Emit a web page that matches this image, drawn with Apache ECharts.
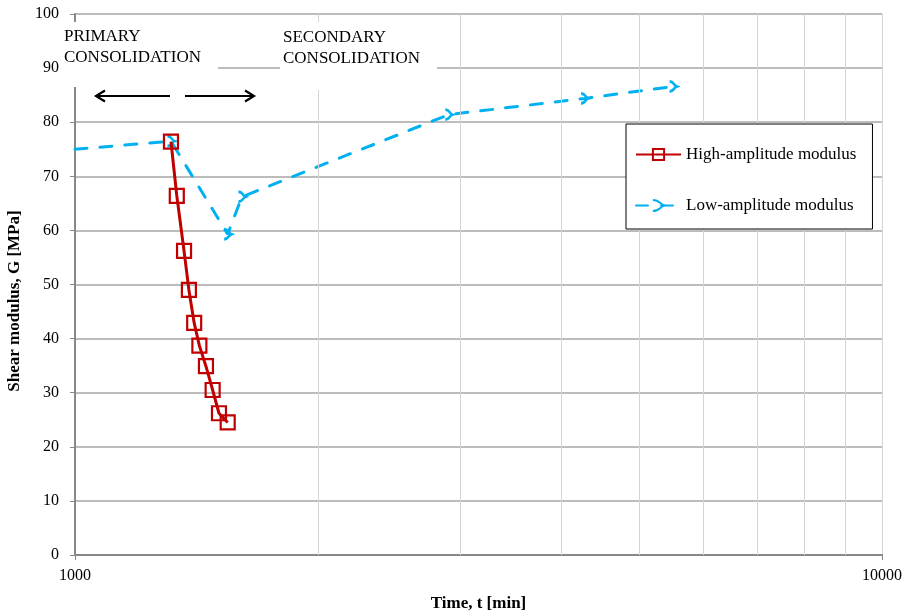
<!DOCTYPE html>
<html><head><meta charset="utf-8">
<script src="https://cdn.jsdelivr.net/npm/echarts@6/dist/echarts.min.js"></script>
<style>html,body{margin:0;padding:0;background:#fff}#c{width:913px;height:615px}</style>
</head><body><div id="c"></div>
<script>
const highT = [1315, 1337, 1365, 1384, 1405, 1426, 1453, 1481, 1508, 1546];
const highG = [76.4, 66.4, 56.2, 49.0, 42.9, 38.7, 34.9, 30.5, 26.2, 24.5];
const lowT = [1000, 1315, 1546, 1610, 2905, 4280, 5510];
const lowG = [75.0, 76.5, 59.3, 66.2, 81.4, 84.4, 86.6];
const xGridValues = [2000, 3000, 4000, 5000, 6000, 7000, 8000, 9000];
const seriesNames = ['High-amplitude modulus', 'Low-amplitude modulus'];
const yTitle = 'Shear modulus, G [MPa]';
const xTitle = 'Time, t [min]';

const FONT = '"Liberation Serif", "Times New Roman", serif';
const chart = echarts.init(document.getElementById('c'), null, {renderer: 'canvas'});
const zip = (a, b) => a.map((v, i) => [v, b[i]]);
const lowData = zip(lowT, lowG).map((p, i) => i === 0 ? {value: p, symbol: 'none'} : p);

const option = {
  animation: false,
  backgroundColor: '#fff',
  grid: {left: 75, right: 31, top: 14, bottom: 60, containLabel: false, outerBoundsMode: 'none'},
  xAxis: {
    type: 'log', logBase: 10, min: 1000, max: 10000,
    name: xTitle, nameLocation: 'middle', nameGap: 40,
    nameTextStyle: {fontFamily: FONT, fontSize: 17, fontWeight: 'bold', color: '#000'},
    axisLine: {show: true, onZero: false, lineStyle: {color: '#888', width: 2}},
    axisTick: {show: true, length: 5, lineStyle: {color: '#888'}},
    axisLabel: {fontFamily: FONT, fontSize: 16, color: '#000', margin: 13,
      formatter: v => String(Math.round(v))},
    splitLine: {show: true, lineStyle: {color: '#d4d4d4', width: 1}}
  },
  yAxis: {
    type: 'value', min: 0, max: 100, interval: 10,
    axisLine: {show: true, lineStyle: {color: '#888', width: 2}},
    axisTick: {show: true, length: 5, lineStyle: {color: '#888'}},
    axisLabel: {fontFamily: FONT, fontSize: 16, color: '#000', margin: 16},
    splitLine: {show: true, lineStyle: {color: '#a6a6a6', width: 1.5}}
  },
  legend: {
    orient: 'vertical', left: 626, top: 124, z: 20,
    backgroundColor: '#fff', borderColor: '#000', borderWidth: 1,
    padding: [22, 16, 15, 9], itemGap: 34, itemWidth: 45, itemHeight: 14,
    textStyle: {fontFamily: FONT, fontSize: 17, color: '#000'},
    data: seriesNames
  },
  series: [
    {
      type: 'line', name: 'grid', data: [], z: 1, silent: true,
      markLine: {
        silent: true, symbol: 'none', label: {show: false},
        lineStyle: {color: '#d4d4d4', width: 1, type: 'solid'},
        data: xGridValues.map(v => ({xAxis: v}))
      }
    },
    {
      type: 'line', name: seriesNames[1], data: lowData, z: 3,
      lineStyle: {color: '#00B0F0', width: 3, type: [12, 13], cap: 'round'},
      symbol: 'path://M0,0 C5,0 5,4 8,5 C5,6 5,10 0,10', symbolSize: [7, 10],
      itemStyle: {color: 'rgba(0,0,0,0)', borderColor: '#00B0F0', borderWidth: 2.5}
    },
    {
      type: 'line', name: seriesNames[0], data: zip(highT, highG), z: 4,
      lineStyle: {color: '#C00000', width: 3},
      symbol: 'rect', symbolSize: 14,
      itemStyle: {color: 'rgba(0,0,0,0)', borderColor: '#C00000', borderWidth: 2.2}
    }
  ],
  graphic: [
    {type: 'rect', z: 10, shape: {x: 62, y: 22, width: 156, height: 65}, style: {fill: '#fff'}},
    {type: 'text', z: 11, x: 64, y: 26, style: {text: 'PRIMARY\nCONSOLIDATION', font: '17px ' + FONT, fill: '#000', lineHeight: 21}},
    {type: 'rect', z: 10, shape: {x: 280, y: 22, width: 157, height: 68}, style: {fill: '#fff'}},
    {type: 'text', z: 11, x: 283, y: 27, style: {text: 'SECONDARY\nCONSOLIDATION', font: '17px ' + FONT, fill: '#000', lineHeight: 21}},
    {type: 'line', z: 11, shape: {x1: 96, y1: 96, x2: 170, y2: 96}, style: {stroke: '#000', lineWidth: 2.2}},
    {type: 'polyline', z: 11, shape: {points: [[105, 90.5], [96, 96], [105, 101.5]]}, style: {stroke: '#000', lineWidth: 2.2, fill: null}},
    {type: 'line', z: 11, shape: {x1: 185, y1: 96, x2: 254, y2: 96}, style: {stroke: '#000', lineWidth: 2.2}},
    {type: 'polyline', z: 11, shape: {points: [[245, 90.5], [254, 96], [245, 101.5]]}, style: {stroke: '#000', lineWidth: 2.2, fill: null}},
    {type: 'text', z: 11, x: 15, y: 301, rotation: Math.PI / 2,
     style: {text: yTitle, font: 'bold 17px ' + FONT, fill: '#000', align: 'center', verticalAlign: 'middle'}}
  ]
};
chart.setOption(option);
</script></body></html>
